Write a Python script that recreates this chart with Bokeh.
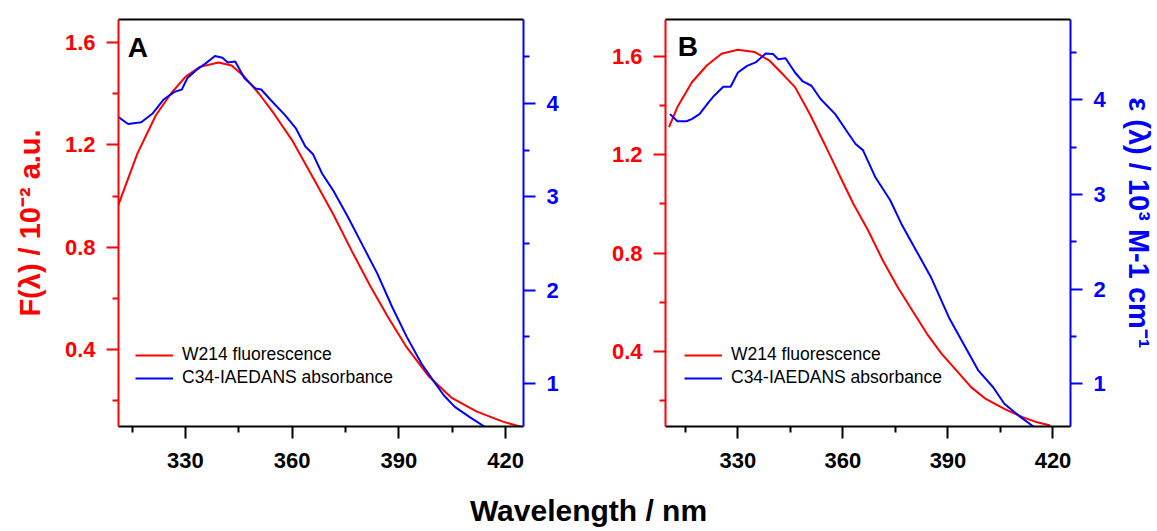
from bokeh.plotting import figure
from bokeh.models import Range1d, LinearAxis, FixedTicker, Legend, LegendItem, Label
from bokeh.layouts import row, column
from bokeh.embed import file_html
from bokeh.resources import INLINE

# ---------------- data ----------------
# Panel A
a_fl_wl = [311.1, 316.5, 321.7, 325.9, 330.0, 334.1, 339.3, 343.0, 346.6, 350.7, 354.9,
           360.0, 366.3, 371.5, 376.7, 381.9, 387.0, 392.2, 398.5, 404.7, 411.9, 419.2, 424.4]
a_fl = [0.963, 1.166, 1.316, 1.400, 1.466, 1.505, 1.522, 1.510, 1.466, 1.400, 1.322,
        1.218, 1.061, 0.930, 0.787, 0.650, 0.526, 0.409, 0.294, 0.213, 0.158, 0.119, 0.098]
a_ab_wl = [311.1, 313.9, 317.6, 320.7, 323.8, 326.9, 329.0, 330.5, 333.1, 335.7, 338.3,
           340.4, 341.9, 344.0, 346.6, 349.7, 351.3, 353.9, 358.0, 361.1, 363.7, 365.8,
           368.4, 371.5, 375.6, 379.8, 383.9, 388.1, 392.2, 396.4, 399.5, 402.6, 405.7,
           409.9, 414.0]
a_ab = [3.857, 3.78, 3.80, 3.89, 4.04, 4.125, 4.15, 4.27, 4.36, 4.43, 4.51,
        4.49, 4.44, 4.45, 4.27, 4.16, 4.15, 4.04, 3.875, 3.73, 3.54, 3.46,
        3.25, 3.07, 2.79, 2.48, 2.18, 1.82, 1.50, 1.21, 1.04, 0.875, 0.75,
        0.64, 0.54]

# Panel B
b_fl_wl = [310.3, 312.7, 316.9, 321.1, 325.3, 330.0, 334.7, 338.9, 343.1, 346.3, 350.5,
           354.7, 358.8, 363.0, 367.2, 371.4, 375.6, 379.8, 384.0, 388.2, 392.4, 396.6,
           400.8, 406.1, 411.3, 415.5, 419.2]
b_fl = [1.312, 1.394, 1.496, 1.563, 1.611, 1.627, 1.618, 1.584, 1.523, 1.475, 1.367,
        1.245, 1.123, 1.000, 0.892, 0.770, 0.662, 0.567, 0.472, 0.390, 0.323, 0.255,
        0.207, 0.167, 0.133, 0.112, 0.099]
b_ab_wl = [310.6, 312.7, 315.3, 316.9, 319.0, 321.6, 323.2, 325.8, 327.9, 330.0, 332.6,
           335.2, 337.9, 340.0, 341.5, 343.6, 346.3, 348.4, 351.0, 353.6, 357.8, 360.9,
           363.6, 365.7, 369.3, 373.5, 376.7, 380.9, 385.1, 390.3, 394.5, 398.7, 402.9,
           406.1, 410.2, 414.4]
b_ab = [3.85, 3.775, 3.775, 3.80, 3.85, 3.975, 4.045, 4.14, 4.14, 4.29, 4.36,
        4.40, 4.49, 4.485, 4.43, 4.44, 4.29, 4.20, 4.15, 4.01, 3.85, 3.68,
        3.535, 3.47, 3.18, 2.94, 2.69, 2.41, 2.13, 1.70, 1.42, 1.14, 0.965,
        0.79, 0.665, 0.55]

x_major = [330, 360, 390, 420]
x_minor = [315, 345, 375, 405]
f_major = [0.4, 0.8, 1.2, 1.6]
f_minor = [0.2, 0.6, 1.0, 1.4]
e_major = [1, 2, 3, 4]
e_minor = [1.5, 2.5, 3.5, 4.5]

series_labels = ["W214 fluorescence", "C34-IAEDANS absorbance"]

RED = "#ff0000"
BLUE = "#0000ff"
FONT = "Liberation Sans"


def style_axis(ax, color, major, minor, standoff):
    ax.ticker = FixedTicker(ticks=major, minor_ticks=minor)
    ax.axis_line_color = color
    ax.axis_line_width = 2
    ax.major_tick_line_color = color
    ax.major_tick_line_width = 2
    ax.major_tick_out = 12
    ax.major_tick_in = 0
    ax.minor_tick_line_color = color
    ax.minor_tick_line_width = 2
    ax.minor_tick_out = 6
    ax.minor_tick_in = 0
    ax.major_label_text_color = color
    ax.major_label_text_font = FONT
    ax.major_label_text_font_style = "bold"
    ax.major_label_text_font_size = "22px"
    ax.major_label_standoff = standoff


def panel(width, bl, br, xr, fr, er, fl_wl, fl, ab_wl, ab, letter, letter_pos,
          left_label=None, right_label=None, legend_x=17):
    p = figure(width=width, height=480, x_range=Range1d(*xr), y_range=Range1d(*fr),
               output_backend="svg", toolbar_location=None,
               min_border_left=bl, min_border_right=br,
               min_border_top=19, min_border_bottom=54)
    p.extra_y_ranges = {"eps": Range1d(*er)}
    p.grid.visible = False
    p.outline_line_color = None
    p.background_fill_color = "white"
    p.border_fill_color = "white"

    style_axis(p.xaxis[0], "black", x_major, x_minor, 14)
    p.xaxis[0].major_label_text_color = "black"
    style_axis(p.yaxis[0], RED, f_major, f_minor, 11)
    if left_label:
        p.yaxis[0].axis_label = left_label
        p.yaxis[0].axis_label_text_color = RED
        p.yaxis[0].axis_label_text_font = FONT
        p.yaxis[0].axis_label_text_font_style = "bold"
        p.yaxis[0].axis_label_text_font_size = "29px"
        p.yaxis[0].axis_label_standoff = 16

    ax_r = LinearAxis(y_range_name="eps")
    style_axis(ax_r, BLUE, e_major, e_minor, 11)
    if right_label:
        ax_r.axis_label = right_label
        ax_r.axis_label_text_color = BLUE
        ax_r.axis_label_text_font = FONT
        ax_r.axis_label_text_font_style = "bold"
        ax_r.axis_label_text_font_size = "29px"
        ax_r.axis_label_standoff = 14
    p.add_layout(ax_r, "right")

    top = LinearAxis(ticker=FixedTicker(ticks=[]))
    top.axis_line_color = "black"
    top.axis_line_width = 2
    top.major_tick_out = 0
    top.minor_tick_out = 0
    top.major_label_text_font_size = "0px"
    p.add_layout(top, "above")

    r1 = p.line(fl_wl, fl, line_color=RED, line_width=2)
    r2 = p.line(ab_wl, ab, line_color=BLUE, line_width=2, y_range_name="eps")

    leg = Legend(items=[LegendItem(label=series_labels[0], renderers=[r1]),
                        LegendItem(label=series_labels[1], renderers=[r2])],
                 location=(legend_x, 38))
    leg.background_fill_alpha = 0
    leg.border_line_color = None
    leg.padding = 0
    leg.margin = 0
    leg.spacing = 2
    leg.glyph_width = 38
    leg.glyph_height = 20
    leg.label_height = 20
    leg.label_standoff = 9
    leg.label_text_font = FONT
    leg.label_text_font_size = "17.5px"
    leg.label_text_color = "black"
    p.add_layout(leg)

    p.add_layout(Label(x=letter_pos[0], y=letter_pos[1], text=letter,
                       text_font=FONT, text_font_style="bold",
                       text_font_size="28px", text_baseline="top",
                       text_color="black"))
    return p


pA = panel(590, 118, 67, (311.2, 425.0), (0.10, 1.69), (0.54, 4.90),
           a_fl_wl, a_fl, a_ab_wl, a_ab, "A", (313.8, 1.640),
           left_label="F(λ) / 10⁻² a.u.", legend_x=17)
pB = panel(567, 75, 86, (309.3, 425.0), (0.095, 1.75), (0.55, 4.85),
           b_fl_wl, b_fl, b_ab_wl, b_ab, "B", (312.8, 1.702),
           right_label="ε (λ) / 10³ M-1 cm⁻¹", legend_x=19)

foot = figure(width=1157, height=51, x_range=Range1d(0, 1157), y_range=Range1d(0, 51),
              output_backend="svg", toolbar_location=None,
              min_border=0, min_border_left=0, min_border_right=0,
              min_border_top=0, min_border_bottom=0)
foot.axis.visible = False
foot.grid.visible = False
foot.outline_line_color = None
foot.add_layout(Label(x=588, y=21, text="Wavelength / nm", text_font=FONT,
                      text_font_style="bold", text_font_size="30px",
                      text_align="center", text_baseline="middle", text_color="black"))

layout = column(row(pA, pB), foot)
open("out.html", "w").write(file_html(layout, INLINE))
